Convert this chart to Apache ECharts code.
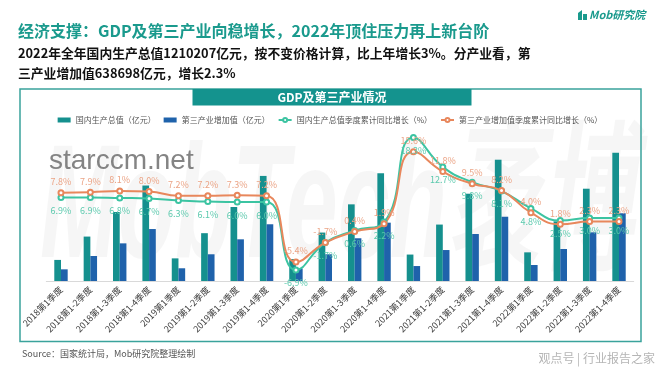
<!DOCTYPE html>
<html>
<head>
<meta charset="utf-8">
<script src="https://cdn.jsdelivr.net/npm/echarts@6/dist/echarts.min.js"></script>
<style>
html,body{margin:0;padding:0;background:#fff;}
#c{width:660px;height:372px;}
</style>
</head>
<body>
<div id="c"></div>
<script>
const categories = ['2018第1季度','2018第1-2季度','2018第1-3季度','2018第1-4季度',
  '2019第1季度','2019第1-2季度','2019第1-3季度','2019第1-4季度',
  '2020第1季度','2020第1-2季度','2020第1-3季度','2020第1-4季度',
  '2021第1季度','2021第1-2季度','2021第1-3季度','2021第1-4季度',
  '2022第1季度','2022第1-2季度','2022第1-3季度','2022第1-4季度'];
const gdpValue = [198783,418961,650899,900309,213433,450933,697798,990865,206504,456614,722786,1015986,249310,532167,823131,1143670,270178,562642,870269,1210207];
const tertiaryValue = [110000,236000,355000,490000,120000,252000,393000,535000,118000,252000,403000,550000,141000,292000,443000,606000,151000,302000,459000,638698];
const gdpGrowth = [6.9,6.9,6.8,6.7,6.3,6.1,6.0,6.0,-6.9,-1.7,0.6,2.2,18.3,12.7,9.8,8.1,4.8,2.5,3.0,3.0];
const tertiaryGrowth = [7.8,7.9,8.1,8.0,7.2,7.2,7.3,7.2,-5.4,-1.7,0.4,1.9,15.6,11.8,9.5,8.2,4.0,1.8,2.3,2.3];
const seriesNames = ['国内生产总值（亿元）','第三产业增加值（亿元）','国内生产总值季度累计同比增长（%）','第三产业增加值季度累计同比增长（%）'];

const FONT = "'Noto Sans CJK SC', sans-serif";
const chart = echarts.init(document.getElementById('c'), null, {renderer:'canvas'});
const pct = p => p.value.toFixed(1) + '%';

chart.setOption({
  animation: false,
  textStyle: {fontFamily: FONT},
  graphic: [
    {type:'text', left:40, top:132, z:-10, silent:true,
     style:{text:'MobTech袤博', font:"italic bold 170px 'Liberation Sans', 'Noto Sans CJK SC'", fill:'rgba(0,0,0,0.035)'},
     scaleX:0.55, scaleY:0.95},
    {type:'rect', shape:{x:20, y:89, width:621, height:252.5}, style:{fill:'none', stroke:'#3aa39c', lineWidth:1.5}, z:-5},
    {type:'rect', shape:{x:192.5, y:89, width:279, height:16.5}, style:{fill:'#14938e'}},
    {type:'text', x:332, y:97.5, style:{text:'GDP及第三产业情况', font:"bold 12px 'Noto Sans CJK SC'", fill:'#fff', align:'center', verticalAlign:'middle'}},
    {type:'text', x:18, y:31, style:{text:'经济支撑：GDP及第三产业向稳增长，2022年顶住压力再上新台阶', font:"bold 16px 'Noto Sans CJK SC'", fill:'#1a9a8d', verticalAlign:'middle'}},
    {type:'text', x:18, y:53, style:{text:'2022年全年国内生产总值1210207亿元，按不变价格计算，比上年增长3%。分产业看，第', font:"bold 12.8px 'Noto Sans CJK SC'", fill:'#111', verticalAlign:'middle'}},
    {type:'text', x:18, y:73.5, style:{text:'三产业增加值638698亿元，增长2.3%', font:"bold 12.8px 'Noto Sans CJK SC'", fill:'#111', verticalAlign:'middle'}},
    {type:'polygon', shape:{points:[[578,20],[578,13],[582,10],[582,20]]}, style:{fill:'#1a9a8d'}},
    {type:'rect', shape:{x:583, y:14, width:4, height:6}, style:{fill:'#1a9a8d'}},
    {type:'text', x:589, y:15, style:{text:'Mob研究院', font:"italic bold 11px 'Noto Sans CJK SC'", fill:'#1a9a8d', verticalAlign:'middle'}},
    {type:'text', x:22, y:354, style:{text:'Source：国家统计局，Mob研究院整理绘制', font:"9px 'Noto Sans CJK SC'", fill:'#555', verticalAlign:'middle'}},
    {type:'text', x:655, y:358, style:{text:'观点号 | 行业报告之家', font:"12px 'Noto Sans CJK SC'", fill:'#b5b5b5', align:'right', verticalAlign:'middle'}},
    {type:'text', x:49, y:161, z:100, style:{text:'starccm.net', font:"28px 'Liberation Sans'", fill:'rgba(110,110,110,0.85)', verticalAlign:'middle'}}
  ],
  legend: {
    top: 111, left: 'center', itemGap: 8, itemWidth: 13, itemHeight: 5,
    textStyle: {fontSize: 8, color: '#555', fontFamily: FONT},
    data: [
      {name: seriesNames[0], icon: 'rect'},
      {name: seriesNames[1], icon: 'rect'},
      {name: seriesNames[2]},
      {name: seriesNames[3]}
    ]
  },
  grid: {left: 46.3, right: 26.3, top: 128.5, bottom: 91, containLabel: false},
  xAxis: {
    type: 'category', data: categories,
    axisLine: {lineStyle: {color: '#d9d9d9'}},
    axisTick: {show: false},
    axisLabel: {rotate: 45, fontSize: 9, color: '#404040', margin: 7, interval: 0, fontFamily: FONT}
  },
  yAxis: [
    {type: 'value', min: 0, max: 1438000, show: false, splitLine: {show: false}},
    {type: 'value', min: -9, max: 20, show: false, splitLine: {show: false}}
  ],
  series: [
    {name: seriesNames[0], type: 'bar', data: gdpValue, barWidth: 6.7, barGap: '0%', itemStyle: {color: '#15908e'}},
    {name: seriesNames[1], type: 'bar', data: tertiaryValue, barWidth: 6.7, barGap: '0%', itemStyle: {color: '#1f62ab'}},
    {name: seriesNames[2], type: 'line', yAxisIndex: 1, data: gdpGrowth, smooth: true,
     symbol: 'emptyCircle', symbolSize: 5,
     lineStyle: {color: '#3cc4a2', width: 2}, itemStyle: {color: '#3cc4a2', borderWidth: 1},
     label: {show: true, position: 'bottom', distance: 5, fontSize: 9, color: '#5bc9ad', formatter: pct}},
    {name: seriesNames[3], type: 'line', yAxisIndex: 1, data: tertiaryGrowth, smooth: true,
     symbol: 'emptyCircle', symbolSize: 5,
     lineStyle: {color: '#e8875c', width: 2}, itemStyle: {color: '#e8875c', borderWidth: 1},
     label: {show: true, position: 'top', distance: 3, fontSize: 9, color: '#eba486', formatter: pct}}
  ]
});
</script>
</body>
</html>
